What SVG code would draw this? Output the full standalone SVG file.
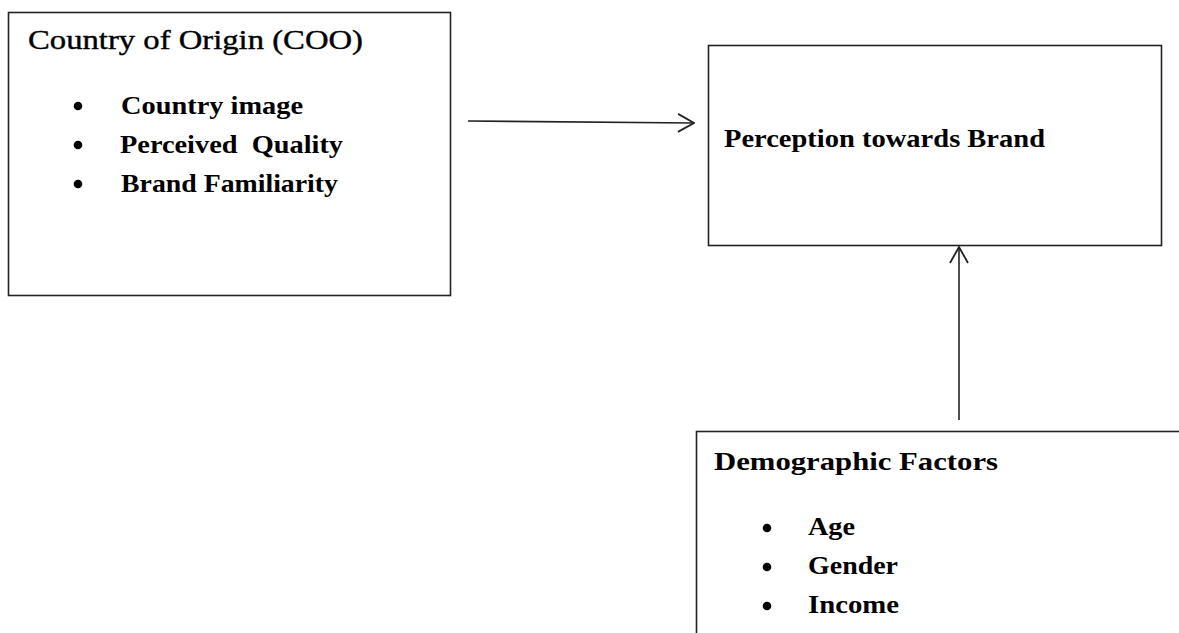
<svg xmlns="http://www.w3.org/2000/svg" width="1179" height="633" viewBox="0 0 1179 633">
<style>
.box{fill:#fff;stroke:#222;stroke-width:1.6}
.t{font-family:"Liberation Serif","Times New Roman",serif;font-weight:bold;fill:#000}
.n{font-weight:normal}
.h{font-size:28px}
.i{font-size:26px}
.conn{stroke:#222;stroke-width:1.6;fill:none}
</style>
<defs>
<marker id="arr" viewBox="0 0 18 22" refX="17" refY="11" markerWidth="18" markerHeight="22" markerUnits="userSpaceOnUse" orient="auto">
<path d="M1,2 L17,11 L1,20" fill="none" stroke="#222" stroke-width="1.8"/>
</marker>
</defs>
<rect width="1179" height="633" fill="#fff"/>
<g id="coo">
<rect class="box" x="8.5" y="12.5" width="442" height="283"/>
<text class="t h n" x="28" y="49" textLength="335" lengthAdjust="spacingAndGlyphs" stroke="#000" stroke-width="0.4">Country of Origin (COO)</text>
<circle cx="78" cy="106" r="4.3"/>
<circle cx="78" cy="145" r="4.3"/>
<circle cx="78" cy="184" r="4.3"/>
<text class="t i" x="121" y="114" textLength="182" lengthAdjust="spacingAndGlyphs">Country image</text>
<text class="t i" x="120" y="153" textLength="223" lengthAdjust="spacingAndGlyphs" xml:space="preserve">Perceived  Quality</text>
<text class="t i" x="121" y="192" textLength="217" lengthAdjust="spacingAndGlyphs">Brand Familiarity</text>
</g>
<g id="perception">
<rect class="box" x="708.5" y="45.5" width="453" height="200"/>
<text class="t i" x="724" y="146.5" textLength="321" lengthAdjust="spacingAndGlyphs">Perception towards Brand</text>
</g>
<g id="demographic">
<rect class="box" x="696.5" y="431.5" width="490" height="220"/>
<text class="t i" x="714" y="470" textLength="284" lengthAdjust="spacingAndGlyphs">Demographic Factors</text>
<circle cx="767" cy="528" r="4.3"/>
<circle cx="767" cy="567" r="4.3"/>
<circle cx="767" cy="606" r="4.3"/>
<text class="t i" x="808" y="535" textLength="47" lengthAdjust="spacingAndGlyphs">Age</text>
<text class="t i" x="808" y="574" textLength="90" lengthAdjust="spacingAndGlyphs">Gender</text>
<text class="t i" x="808" y="613" textLength="91" lengthAdjust="spacingAndGlyphs">Income</text>
</g>
<g id="connectors">
<line class="conn" x1="468" y1="121" x2="694" y2="123" marker-end="url(#arr)"/>
<line class="conn" x1="959" y1="420" x2="959" y2="247" marker-end="url(#arr)"/>
</g>
</svg>
